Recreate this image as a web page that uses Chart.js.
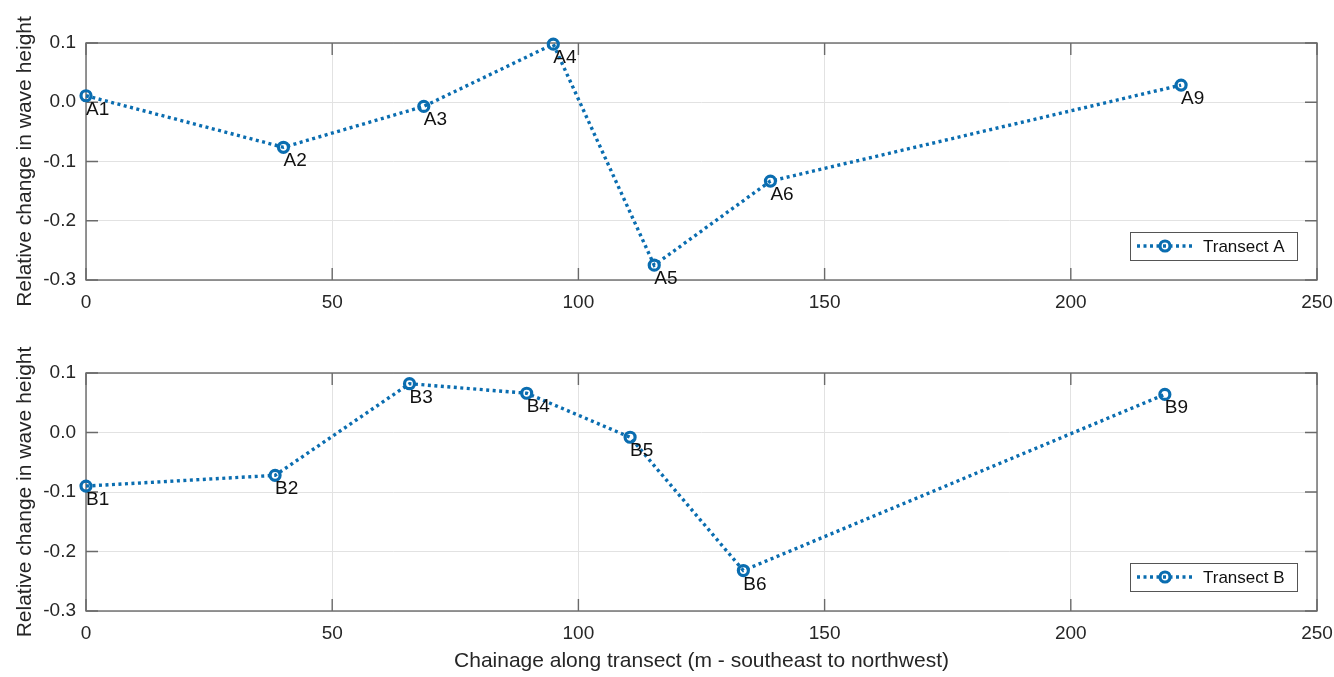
<!DOCTYPE html>
<html><head><meta charset="utf-8">
<script src="https://cdn.jsdelivr.net/npm/chart.js@4.4.1/dist/chart.umd.min.js"></script>
<style>
html,body{margin:0;padding:0;background:#fff;width:1334px;height:677px;overflow:hidden}
canvas{position:absolute;left:0}
#c1{top:0}
#c2{top:330px}
</style></head><body>
<canvas id="c1" width="1334" height="330"></canvas>
<canvas id="c2" width="1334" height="347"></canvas>
<script>
const chainageA = [0, 40.1, 68.6, 94.9, 115.4, 139.0, 222.4];
const changeA = [0.011, -0.076, -0.007, 0.098, -0.275, -0.133, 0.029];
const pointNamesA = ['A1','A2','A3','A4','A5','A6','A9'];
const chainageB = [0, 38.4, 65.7, 89.5, 110.5, 133.5, 219.1];
const changeB = [-0.090, -0.072, 0.082, 0.066, -0.008, -0.232, 0.064];
const pointNamesB = ['B1','B2','B3','B4','B5','B6','B9'];
const xTicks = [0, 50, 100, 150, 200, 250];
const yTicks = [-0.3, -0.2, -0.1, 0.0, 0.1];
const yTitle = 'Relative change in wave height';
const xTitle = 'Chainage along transect (m - southeast to northwest)';

const FONT = '"Liberation Sans", Arial, Helvetica, sans-serif';
const BLUE = '#0a6db0';

const framePlugin = {
  id: 'frame',
  beforeDatasetsDraw(chart) {
    const {ctx, chartArea: a, scales: {x, y}} = chart;
    ctx.save();
    ctx.strokeStyle = '#6a6a6a';
    ctx.lineWidth = 1.4;
    ctx.strokeRect(a.left, a.top, a.right - a.left, a.bottom - a.top);
    const L = 12;
    ctx.beginPath();
    x.ticks.forEach(t => {
      const px = x.getPixelForValue(t.value);
      ctx.moveTo(px, a.bottom); ctx.lineTo(px, a.bottom - L);
      ctx.moveTo(px, a.top); ctx.lineTo(px, a.top + L);
    });
    y.ticks.forEach(t => {
      const py = y.getPixelForValue(t.value);
      ctx.moveTo(a.left, py); ctx.lineTo(a.left + L, py);
      ctx.moveTo(a.right, py); ctx.lineTo(a.right - L, py);
    });
    ctx.stroke();
    ctx.restore();
  }
};

const namesPlugin = {
  id: 'pointNames',
  afterDatasetsDraw(chart) {
    const {ctx} = chart;
    const meta = chart.getDatasetMeta(0);
    const names = chart.data.datasets[0].pointNames;
    ctx.save();
    ctx.font = '19px ' + FONT;
    ctx.fillStyle = '#111';
    ctx.textAlign = 'left';
    ctx.textBaseline = 'alphabetic';
    meta.data.forEach((el, i) => ctx.fillText(names[i], el.x, el.y + 19));
    ctx.restore();
  }
};

const legendPlugin = {
  id: 'boxLegend',
  afterDraw(chart) {
    const {ctx, chartArea: a} = chart;
    const ds = chart.data.datasets[0];
    const w = 167, h = 28;
    const bx = a.right - 20 - w, by = a.bottom - 20 - h;
    ctx.save();
    ctx.fillStyle = '#fff';
    ctx.fillRect(bx, by, w, h);
    ctx.strokeStyle = '#555';
    ctx.lineWidth = 1;
    ctx.strokeRect(bx + 0.5, by + 0.5, w, h);
    const cy = by + h / 2;
    ctx.strokeStyle = ds.borderColor;
    ctx.lineWidth = ds.borderWidth;
    ctx.setLineDash(ds.borderDash);
    ctx.beginPath(); ctx.moveTo(bx + 7, cy); ctx.lineTo(bx + 63, cy); ctx.stroke();
    ctx.setLineDash([]);
    ctx.lineWidth = ds.pointBorderWidth;
    ctx.beginPath(); ctx.arc(bx + 35, cy, ds.pointRadius, 0, Math.PI * 2); ctx.stroke();
    ctx.fillStyle = '#111';
    ctx.font = '17px ' + FONT;
    ctx.textBaseline = 'middle';
    ctx.textAlign = 'left';
    ctx.fillText(ds.label, bx + 73, cy + 1);
    ctx.restore();
  }
};

function makeChart(id, xs, ys, names, label, showXTitle, xAxisHeight) {
  const data = xs.map((x, i) => ({x, y: ys[i]}));
  return new Chart(document.getElementById(id), {
    type: 'line',
    data: {
      datasets: [{
        label,
        data,
        pointNames: names,
        borderColor: BLUE,
        borderWidth: 3.4,
        borderDash: [3, 3.5],
        pointRadius: 5,
        pointBorderWidth: 3.2,
        pointBorderColor: BLUE,
        pointBackgroundColor: 'rgba(0,0,0,0)',
        pointStyle: 'circle',
        tension: 0,
        fill: false,
        clip: false
      }]
    },
    options: {
      responsive: false,
      animation: false,
      devicePixelRatio: 1,
      layout: {padding: {top: 43, right: 17, left: 0, bottom: 0}},
      plugins: {legend: {display: false}, tooltip: {enabled: false}},
      scales: {
        x: {
          type: 'linear', min: 0, max: 250,
          afterBuildTicks: s => { s.ticks = xTicks.map(v => ({value: v})); },
          afterFit: s => { s.height = xAxisHeight; s.paddingLeft = 0; s.paddingRight = 0; },
          grid: {color: '#e2e2e2', lineWidth: 1, drawTicks: false},
          border: {display: false},
          ticks: {color: '#262626', font: {family: FONT, size: 19}, padding: 11, maxRotation: 0,
                  callback: v => String(v)},
          title: {display: showXTitle, text: xTitle, color: '#262626',
                  font: {family: FONT, size: 21}, padding: {top: 0, bottom: 3}}
        },
        y: {
          type: 'linear', min: -0.3, max: 0.1,
          afterBuildTicks: s => { s.ticks = yTicks.map(v => ({value: v})); },
          afterFit: s => { s.width = 86; },
          grid: {color: '#e2e2e2', lineWidth: 1, drawTicks: false},
          border: {display: false},
          ticks: {color: '#262626', font: {family: FONT, size: 19}, padding: 10,
                  callback: v => Math.abs(v) < 1e-9 ? '0.0' : v.toFixed(1)},
          title: {display: true, text: yTitle, color: '#262626',
                  font: {family: FONT, size: 21}, padding: {top: 13, bottom: 0}}
        }
      }
    },
    plugins: [framePlugin, namesPlugin, legendPlugin]
  });
}

makeChart('c1', chainageA, changeA, pointNamesA, 'Transect A', false, 50);
makeChart('c2', chainageB, changeB, pointNamesB, 'Transect B', true, 66);
</script>
</body></html>
